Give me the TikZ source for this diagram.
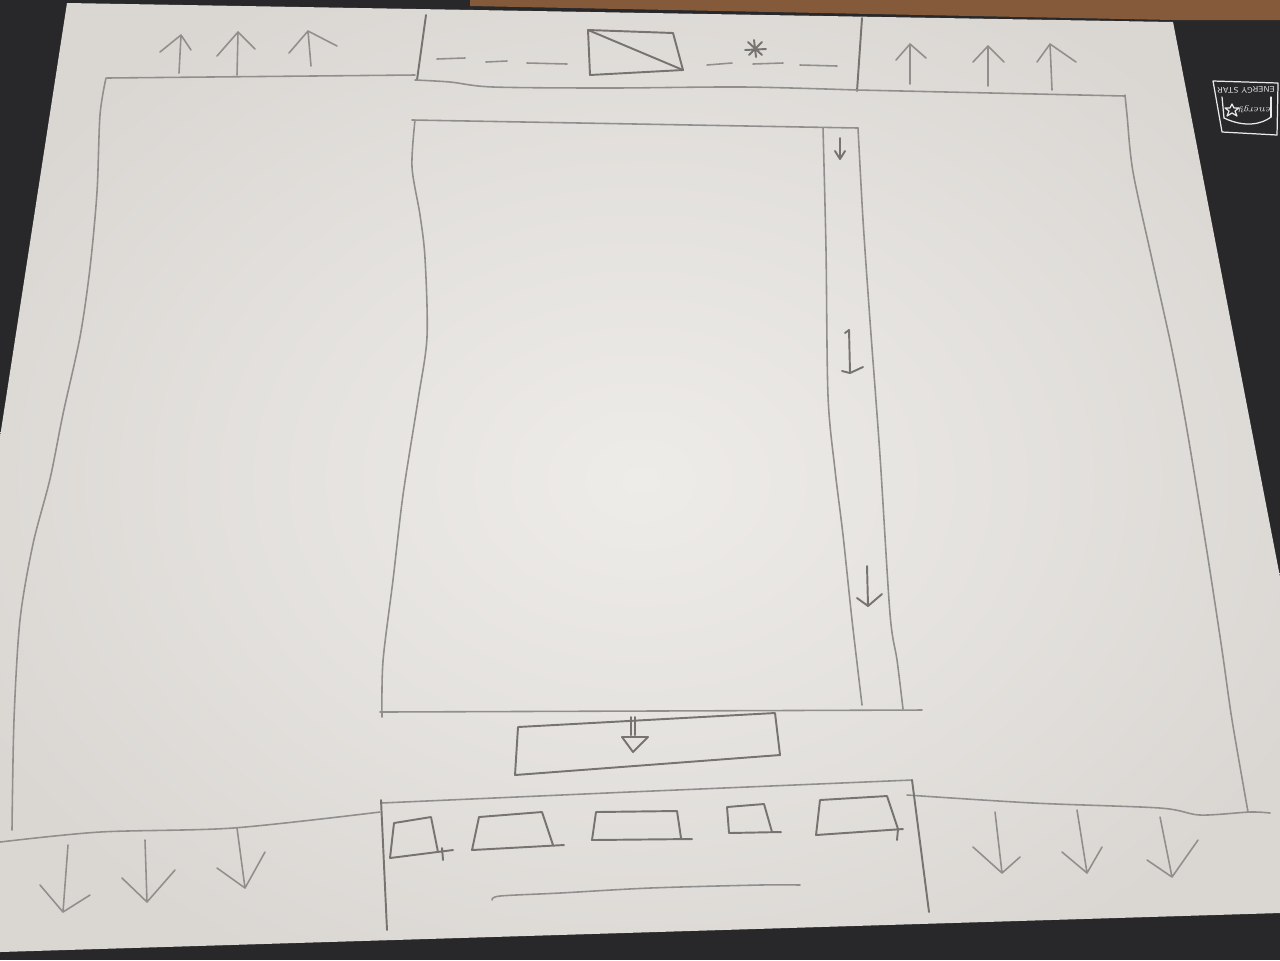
\documentclass[tikz,border=0pt]{standalone}
\usepackage{tikz}
\usetikzlibrary{arrows.meta,calc,positioning}
\definecolor{desk}{RGB}{40,40,42}
\definecolor{wood}{RGB}{132,90,58}
\definecolor{paperhi}{RGB}{238,236,233}
\definecolor{paperlo}{RGB}{218,215,211}
\definecolor{pencil}{RGB}{118,115,112}
\tikzset{
  pencil/.style={draw=pencil,line width=0.55pt},
  faint/.style={draw=pencil!80,line width=0.45pt},
  logo/.style={draw=white!90!desk,line width=0.35pt}
}

\begin{document}
\begin{tikzpicture}[x=0.01cm,y=-0.01cm,line join=round,line cap=round]
  \useasboundingbox (0,0) rectangle (1280,960);
  % desk, wood and the sheet
  \fill[desk] (0,0) rectangle (1280,960);
  \fill[wood] (470,0) -- (1280,0) -- (1280,20) -- (1173,20) -- (470,6) -- cycle;
  \begin{scope}
    \clip (67,3) -- (1173,22) -- (1280,577) -- (1280,913) -- (0,952) -- (0,437) -- cycle;
    \shade[inner color=paperhi,outer color=paperlo] (-100,-80) rectangle (1380,1040);
  \end{scope}
  % energy star label
  \draw[logo] (1213,81) -- (1278,83) -- (1277,135) -- (1222,132) -- cycle;
  \node[text=white!90!desk,font=\sffamily\fontsize{2.3}{2.6}\selectfont,rotate=181,inner sep=0pt] (estar) at (1246,90) {ENERGY STAR};
  \draw[logo] (1222,97) -- (1224,118);
  \draw[logo] (1224,118) .. controls (1245,128) and (1262,124) .. (1271,117);
  \draw[logo] (1271,117) -- (1271,97);
  \draw[logo] (1232,104) -- (1234,108) -- (1239,108) -- (1235,111) -- (1237,116) -- (1232,113) -- (1227,116) -- (1229,111) -- (1225,108) -- (1230,108) -- cycle;
  \node[text=white!90!desk,font=\itshape\fontsize{2.8}{3}\selectfont,rotate=181,inner sep=0pt] (eword) at (1255,109) {energy};

  % top banner
  \draw[pencil] (426,15) -- (417,80);
  \draw[pencil] (862,18) -- (857,91);
  \draw[faint] plot[smooth] coordinates {(415,80) (450,82) (493,87) (610,88) (743,87) (857,90)};
  \foreach \xa/\ya/\xb/\yb in {437/59/465/58, 486/62/507/61, 527/63/567/64, 707/65/732/63, 753/64/783/63, 800/65/837/66}
    \draw[faint] (\xa,\ya) -- (\xb,\yb);
  \coordinate (imgA) at (588,30);
  \coordinate (imgB) at (673,33);
  \coordinate (imgC) at (683,70);
  \coordinate (imgD) at (590,75);
  \draw[pencil] (imgA) -- (imgB) -- (imgC) -- (imgD) -- cycle;
  \draw[pencil] (imgA) -- (imgC);
  \draw[pencil] (748,42) -- (762,55) (762,42) -- (749,55) (745,50) -- (766,49) (754,40) -- (756,57);

  % left panel
  \draw[faint] (107,78) -- (415,75);
  \draw[faint] plot[smooth] coordinates {(106,78) (100,115) (97,192) (90,268) (80,337) (63,414) (50,479) (33,544) (20,620) (14,720) (12,830)};
  \draw[faint] plot[smooth] coordinates {(0,842) (100,832) (233,828) (380,812)};

  % right panel
  \draw[faint] (857,90) -- (1125,96);
  \draw[faint] plot[smooth] coordinates {(1125,95) (1127,115) (1133,172) (1153,264) (1172,350) (1187,430) (1207,552) (1222,650) (1232,720) (1248,812)};
  \draw[faint] plot[smooth] coordinates {(907,795) (1033,803) (1160,808) (1200,815) (1250,812) (1270,813)};

  % content column and scroll strip
  \draw[faint] (412,120) -- (858,128);
  \draw[faint] plot[smooth] coordinates {(415,120) (412,167) (420,215) (425,258) (427,337) (418,400) (403,495) (393,580) (383,661) (382,717)};
  \draw[faint] (380,712) -- (922,710);
  \draw[faint] plot[smooth] coordinates {(823,128) (826,250) (828,396) (835,470) (843,535) (852,620) (862,705)};
  \draw[faint] plot[smooth] coordinates {(858,128) (863,220) (870,321) (880,456) (890,614) (897,660) (903,709)};
  \draw[pencil] (840,138) -- (840,159) (835,151) -- (840,159) -- (845,151);
  \draw[pencil] (845,333) -- (849,330) -- (850,373) (842,371) -- (850,373) -- (863,367);
  \draw[pencil] (867,566) -- (868,606) (857,598) -- (868,606) -- (882,594);

  % next bar
  \draw[pencil] (518,727) -- (775,713) -- (780,755) -- (515,775) -- cycle;
  \draw[pencil] (631,717) -- (631,735) (635,717) -- (635,735);
  \draw[pencil] (622,737) -- (648,737) -- (633,752) -- cycle;

  % bottom menu
  \draw[faint] (381,803) -- (629,792) -- (912,780);
  \draw[pencil] (381,800) -- (387,930);
  \draw[pencil] (912,780) -- (929,912);
  \draw[pencil] (453,850) -- (390,858) -- (394,823) -- (431,817) -- (438,852) (442,848) -- (443,860);
  \draw[pencil] (564,845) -- (472,850) -- (479,817) -- (542,812) -- (553,845);
  \draw[pencil] (692,839) -- (592,840) -- (596,812) -- (677,811) -- (681,838);
  \draw[pencil] (781,832) -- (729,833) -- (727,807) -- (764,804) -- (772,832);
  \draw[pencil] (903,829) -- (816,835) -- (820,800) -- (887,796) -- (898,829) -- (897,840);
  \draw[faint] plot[smooth] coordinates {(492,900) (500,896) (560,893) (650,888) (760,885) (800,885)};

  % corner arrows
  \foreach \tx/\ty/\hx/\hy/\lx/\ly/\rx/\ry in {
      179/73/181/35/160/52/191/50, 237/75/238/32/217/56/255/49, 311/66/308/31/289/53/337/46,
      910/84/910/44/896/60/926/58, 988/86/988/46/973/62/1004/62, 1052/90/1050/44/1037/62/1076/62,
      68/845/63/912/40/885/90/895, 145/840/147/902/122/878/175/870, 237/828/245/888/217/868/265/852,
      995/812/1002/873/973/847/1020/857, 1077/810/1087/873/1062/852/1102/847, 1160/817/1172/877/1147/860/1198/840}
    \draw[faint] (\tx,\ty) -- (\hx,\hy) (\lx,\ly) -- (\hx,\hy) -- (\rx,\ry);
\end{tikzpicture}
\end{document}
